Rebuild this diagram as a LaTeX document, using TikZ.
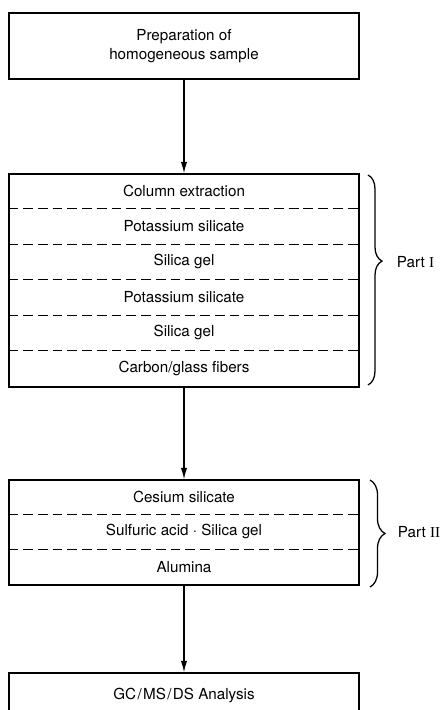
\documentclass[tikz,border=0pt]{standalone}
\usepackage{fontspec}
\setmainfont{TeX Gyre Heros}
\newfontfamily\romanfont{Liberation Serif}
\usetikzlibrary{calc,positioning,arrows.meta,decorations.pathreplacing}

\begin{document}
\begin{tikzpicture}[
    stage/.style={draw, line width=1.1pt, minimum width=8.75cm, inner sep=0pt, align=center, font=\fontsize{10.8}{13.5}\selectfont},
    row/.style={font=\fontsize{10.8}{13.5}\selectfont},
    sep/.style={line width=0.8pt, dash pattern=on 7pt off 3.5pt},
    flow/.style={line width=0.8pt, -{Latex[length=8pt,width=4.5pt]}},
    part/.style={decorate, decoration={brace, amplitude=0.35cm}, line width=0.9pt}
  ]
 \useasboundingbox (0,0) rectangle (11.05,17.75);
 \clip (0,0) rectangle (11.05,17.75);

    % boxes
    \node[stage, minimum height=1.65cm] (prep) at (4.6,16.6) {Preparation of\\homogeneous sample};
    \node[stage, minimum height=5.325cm] (partone) at (4.6,10.7375) {};
    \node[stage, minimum height=2.625cm] (parttwo) at (4.6,4.4375) {};
    \node[stage, minimum height=1.1cm] (gcms) at (4.6,0.375) {GC\kern1pt/\kern1pt MS\kern1pt/\kern1pt DS Analysis};

    % part I rows
    \foreach \name [count=\i] in {Column extraction, Potassium silicate, Silica gel, Potassium silicate, Silica gel, Carbon/glass fibers}
      \node[row] (one\i) at ($(partone.north)+(0,0.44375-0.8875*\i)$) {\name};
    \foreach \i in {1,...,5}
      \draw[sep] ($(partone.north west)+(0,-0.8875*\i)$) -- ($(partone.north east)+(0,-0.8875*\i)$);

    % part II rows
    \foreach \name [count=\i] in {Cesium silicate, Sulfuric acid · Silica gel, Alumina}
      \node[row] (two\i) at ($(parttwo.north)+(0,0.4375-0.875*\i)$) {\name};
    \foreach \i in {1,2}
      \draw[sep] ($(parttwo.north west)+(0,-0.875*\i)$) -- ($(parttwo.north east)+(0,-0.875*\i)$);

    % arrows
    \draw[flow] (prep) -- (partone);
    \draw[flow] (partone) -- (parttwo);
    \draw[flow] (parttwo) -- (gcms);

    % braces
    \draw[part, decoration={aspect=0.41}] (9.2,13.375) -- (9.2,8.125);
    \node[row, anchor=west] (labone) at (9.8,11.2) {Part {\romanfont I}};
    \draw[part, decoration={amplitude=0.375cm}] (9.25,5.75) -- (9.25,3.075);
    \node[row, anchor=west] (labtwo) at (9.825,4.45) {Part {\romanfont II}};

\end{tikzpicture}
\end{document}
